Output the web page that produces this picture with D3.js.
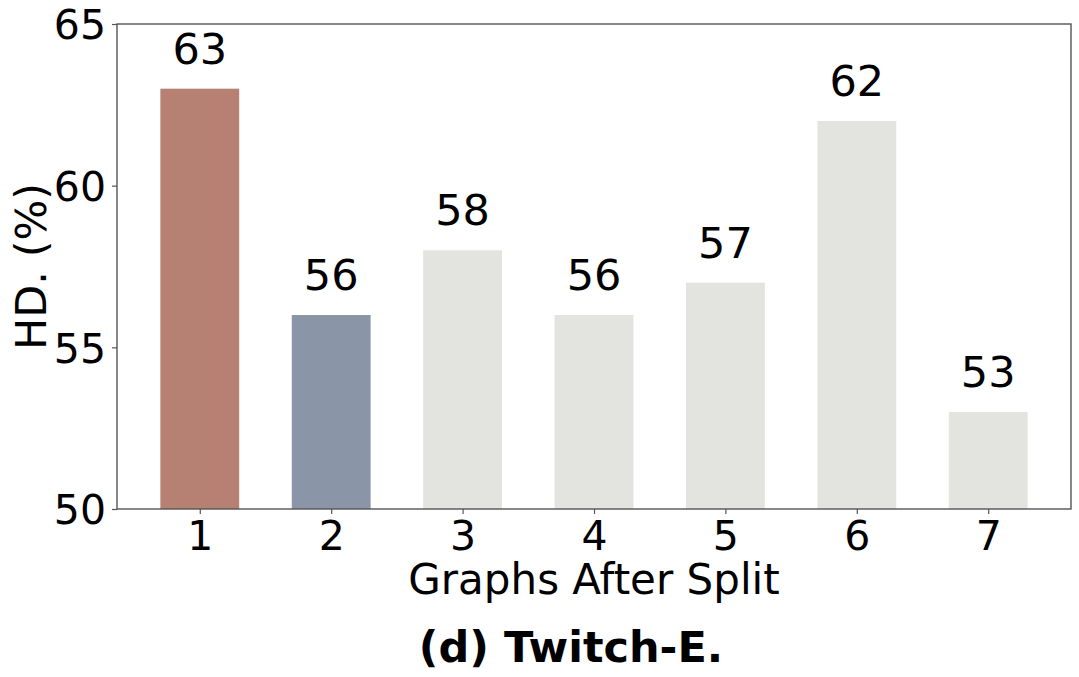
<!DOCTYPE html>
<html><head><meta charset="utf-8">
<script src="https://cdn.jsdelivr.net/npm/d3@7"></script>
<style>body{margin:0;background:#fff}svg{display:block}text{font-family:"DejaVu Sans",sans-serif}</style>
</head><body>
<svg id="c" width="1079" height="677"></svg>
<script>
const categories = ["1","2","3","4","5","6","7"];
const values = [63,56,58,56,57,62,53];
const colors = ["#b68072","#8a95a8","#e3e4df","#e3e4df","#e3e4df","#e3e4df","#e3e4df"];
const yTicks = [50,55,60,65];

const svg = d3.select("#c");
const L=117,R=1071,T=24,B=509;
const x = d3.scaleLinear().domain([0.37,7.63]).range([L,R]);
const y = d3.scaleLinear().domain([50,65]).range([B,T]);
const bw = x(1.6)-x(1);

svg.selectAll("rect.bar").data(values).join("rect")
  .attr("x",(d,i)=>x(i+1)-bw/2).attr("width",bw)
  .attr("y",d=>y(d)).attr("height",d=>B-y(d))
  .attr("fill",(d,i)=>colors[i]);

svg.selectAll("text.val").data(values).join("text")
  .attr("x",(d,i)=>x(i+1)).attr("y",d=>y(d)-25)
  .attr("text-anchor","middle").attr("font-size",43).text(d=>d);

const xa = svg.append("g").attr("transform",`translate(0,${B})`)
  .call(d3.axisBottom(x).tickValues(categories.map(Number)).tickFormat((d,i)=>categories[i]).tickSize(5).tickPadding(5));
const ya = svg.append("g").attr("transform",`translate(${L},0)`)
  .call(d3.axisLeft(y).tickValues(yTicks).tickSize(5).tickPadding(6));
[xa,ya].forEach(a=>{
  a.select(".domain").remove();
  a.selectAll("line").attr("stroke","#555").attr("stroke-width",1.2);
  a.selectAll("text").attr("font-size",41).attr("fill","#000").style("font-family","DejaVu Sans");
});
xa.selectAll("text").attr("dy","0.75em");
ya.selectAll("text").attr("dy","0.36em");

svg.append("rect").attr("x",L).attr("y",T).attr("width",R-L).attr("height",B-T)
  .attr("fill","none").attr("stroke","#555").attr("stroke-width",1.4);

svg.append("text").attr("x",(L+R)/2).attr("y",594).attr("text-anchor","middle")
  .attr("font-size",42).text("Graphs After Split");
svg.append("text").attr("transform",`translate(46,${(T+B)/2}) rotate(-90)`).attr("text-anchor","middle")
  .attr("font-size",43).text("HD. (%)");
svg.append("text").attr("x",571).attr("y",662).attr("text-anchor","middle")
  .attr("font-size",43).attr("font-weight","bold").text("(d) Twitch-E.");
</script>
</body></html>
